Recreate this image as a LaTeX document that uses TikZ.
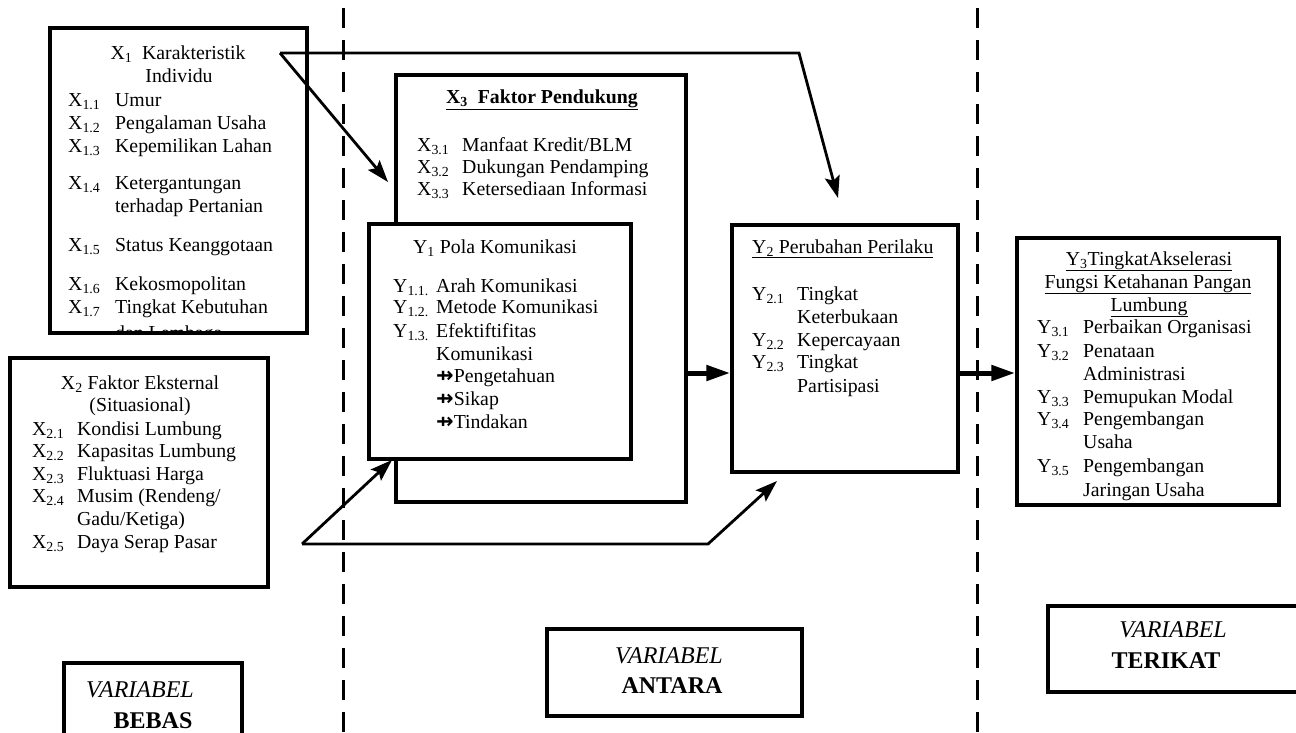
\documentclass[tikz,border=0pt]{standalone}
\usepackage{fontspec}
\setmainfont{Liberation Serif}
\newfontfamily\djv{DejaVu Sans}
\usetikzlibrary{arrows.meta}
\newcommand\rowitem[6]{%
  \node[txt] (#1l) at (#2,#4) {#5};
  \node[txt] (#1t) at (#3,#4) {#6};}
\newcommand\rowcont[4]{\node[txt] (#1) at (#2,#3) {#4};}
\newcommand\featarrow{{\djv\bfseries\fontsize{21}{22}\selectfont ⇸}}
\begin{document}
\begin{tikzpicture}[x=1pt,y=-1pt,
  box/.style={draw,line width=3.5pt,fill=white,inner sep=0pt},
  txt/.style={inner sep=0pt,anchor=base west,font=\fontsize{19.8}{22}\selectfont},
  ctxt/.style={txt,anchor=base},
  lbl/.style={inner sep=0pt,anchor=base,font=\fontsize{24}{26}\selectfont},
  arr/.style={line width=2.8pt,-{Stealth[length=22pt,width=15pt,inset=4pt]}},
  thickarr/.style={line width=5pt,-{Triangle[length=24pt,width=15pt]}},
  divider/.style={line width=3pt,dash pattern=on 20pt off 12pt,dash phase=-8pt}]
\fill[white] (0,0) rectangle (1296,732);
\clip (0,0) rectangle (1296,732);
% dividers
\coordinate (d1t) at (343,0); \coordinate (d1b) at (343,732);
\coordinate (d2t) at (977,0); \coordinate (d2b) at (977,732);
\draw[divider] (d1t) -- (d1b);
\draw[divider] (d2t) -- (d2b);
% boxes
\node[box,minimum width=257pt,minimum height=305pt] (x1) at (178.5,180.5) {};
\node[box,minimum width=258pt,minimum height=229pt] (x2) at (139,472.5) {};
\node[box,minimum width=290pt,minimum height=427pt] (x3) at (541,288.5) {};
\node[box,minimum width=262pt,minimum height=235pt] (y1) at (500,341.5) {};
\node[box,minimum width=226pt,minimum height=247pt] (y2) at (845,348.5) {};
\node[box,minimum width=262pt,minimum height=267pt] (y3) at (1148,371.5) {};
\node[box,minimum width=178pt,minimum height=97pt] (lb1) at (153,711.5) {};
\node[box,minimum width=255pt,minimum height=87pt] (lb2) at (674.5,672.5) {};
\node[box,minimum width=252pt,minimum height=86pt] (lb3) at (1174,649) {};
% X1 text
\begin{scope}
\clip ([shift={(2pt,2pt)}]x1.south west) rectangle ([shift={(-2pt,-2pt)}]x1.north east);
\node[ctxt] (x1h1) at (178,59) {X\textsubscript{1}\ \ Karakteristik};
\node[ctxt] (x1h2) at (179,82) {Individu};
\rowitem{x1a}{68}{115}{106}{X\textsubscript{1.1}}{Umur}
\rowitem{x1b}{68}{115}{129}{X\textsubscript{1.2}}{Pengalaman Usaha}
\rowitem{x1c}{68}{115}{152}{X\textsubscript{1.3}}{Kepemilikan Lahan}
\rowitem{x1d}{68}{115}{189}{X\textsubscript{1.4}}{Ketergantungan}
\rowcont{x1d2}{115}{212}{terhadap Pertanian}
\rowitem{x1e}{68}{115}{251}{X\textsubscript{1.5}}{Status Keanggotaan}
\rowitem{x1f}{68}{115}{290}{X\textsubscript{1.6}}{Kekosmopolitan}
\rowitem{x1g}{68}{115}{313}{X\textsubscript{1.7}}{Tingkat Kebutuhan}
\rowcont{x1g2}{115}{339}{dan Lembaga}
\end{scope}
% X2 text
\node[ctxt] (x2h1) at (140,389) {X\textsubscript{2} Faktor Eksternal};
\node[ctxt] (x2h2) at (140,411) {(Situasional)};
\rowitem{x2a}{32}{77}{435}{X\textsubscript{2.1}}{Kondisi Lumbung}
\rowitem{x2b}{32}{77}{457}{X\textsubscript{2.2}}{Kapasitas Lumbung}
\rowitem{x2c}{32}{77}{480}{X\textsubscript{2.3}}{Fluktuasi Harga}
\rowitem{x2d}{32}{77}{502}{X\textsubscript{2.4}}{Musim (Rendeng/}
\rowcont{x2d2}{77}{525}{Gadu/Ketiga)}
\rowitem{x2e}{32}{77}{548}{X\textsubscript{2.5}}{Daya Serap Pasar}
% X3 text
\node[ctxt] (x3h) at (542,103) {\bfseries\underline{X\textsubscript{3}\ \ Faktor Pendukung}};
\rowitem{x3a}{417}{462}{151}{X\textsubscript{3.1}}{Manfaat Kredit/BLM}
\rowitem{x3b}{417}{462}{173}{X\textsubscript{3.2}}{Dukungan Pendamping}
\rowitem{x3c}{417}{462}{195}{X\textsubscript{3.3}}{Ketersediaan Informasi}
% Y1 text
\node[ctxt] (y1h) at (495,253) {Y\textsubscript{1} Pola Komunikasi};
\rowitem{y1a}{393}{436}{292}{Y\textsubscript{1.1.}}{Arah Komunikasi}
\rowitem{y1b}{393}{436}{313}{Y\textsubscript{1.2.}}{Metode Komunikasi}
\rowitem{y1c}{393}{436}{337}{Y\textsubscript{1.3.}}{Efektiftifitas}
\rowcont{y1c2}{436}{360}{Komunikasi}
\rowcont{y1d}{436}{382}{\featarrow Pengetahuan}
\rowcont{y1e}{436}{405}{\featarrow Sikap}
\rowcont{y1f}{436}{428}{\featarrow Tindakan}
% Y2 text
\node[txt] (y2h) at (752,253) {\underline{Y\textsubscript{2} Perubahan Perilaku}};
\rowitem{y2a}{752}{797}{300}{Y\textsubscript{2.1}}{Tingkat}
\rowcont{y2a2}{797}{323}{Keterbukaan}
\rowitem{y2b}{752}{797}{346}{Y\textsubscript{2.2}}{Kepercayaan}
\rowitem{y2c}{752}{797}{368}{Y\textsubscript{2.3}}{Tingkat}
\rowcont{y2c2}{797}{392}{Partisipasi}
% Y3 text
\begin{scope}
\clip ([shift={(2pt,-5pt)}]y3.south west) rectangle ([shift={(-2pt,-2pt)}]y3.north east);
\node[ctxt] (y3h1) at (1149,265) {\underline{Y\textsubscript{3}TingkatAkselerasi}};
\node[ctxt] (y3h2) at (1148,288) {\underline{Fungsi Ketahanan Pangan}};
\node[ctxt] (y3h3) at (1149,311) {\underline{Lumbung}};
\rowitem{y3a}{1037}{1083}{333}{Y\textsubscript{3.1}}{Perbaikan Organisasi}
\rowitem{y3b}{1037}{1083}{357}{Y\textsubscript{3.2}}{Penataan}
\rowcont{y3b2}{1083}{380}{Administrasi}
\rowitem{y3c}{1037}{1083}{403}{Y\textsubscript{3.3}}{Pemupukan Modal}
\rowitem{y3d}{1037}{1083}{425}{Y\textsubscript{3.4}}{Pengembangan}
\rowcont{y3d2}{1083}{448}{Usaha}
\rowitem{y3e}{1037}{1083}{472}{Y\textsubscript{3.5}}{Pengembangan}
\rowcont{y3e2}{1083}{496}{Jaringan Usaha}
\end{scope}
% label boxes text
\node[lbl] (lb1a) at (140,697) {\itshape VARIABEL};
\node[lbl] (lb1b) at (153,728) {\bfseries BEBAS};
\node[lbl] (lb2a) at (669,663) {\itshape VARIABEL};
\node[lbl] (lb2b) at (672,693) {\bfseries ANTARA};
\node[lbl] (lb3a) at (1173,637) {\itshape VARIABEL};
\node[lbl] (lb3b) at (1166,668) {\bfseries TERIKAT};
% arrows
\coordinate (x1o) at (280,53);
\coordinate (tipA) at (388,182);
\coordinate (cornerB) at (799,53);
\coordinate (tipB) at (838,198);
\draw[arr] (x1o) -- (tipA);
\draw[arr] (x1o) -- (cornerB) -- (tipB);
\coordinate (x2o) at (302,544);
\coordinate (tipC) at (392,460);
\coordinate (cornerD) at (708,544);
\coordinate (tipD) at (777,481);
\draw[arr] (x2o) -- (tipC);
\draw[arr] (x2o) -- (cornerD) -- (tipD);
\coordinate (m1) at (686,373);
\draw[thickarr] (m1) -- (m1 -| y2.west);
\draw[thickarr] (y2.east |- m1) -- (m1 -| y3.west);
\end{tikzpicture}
\end{document}
